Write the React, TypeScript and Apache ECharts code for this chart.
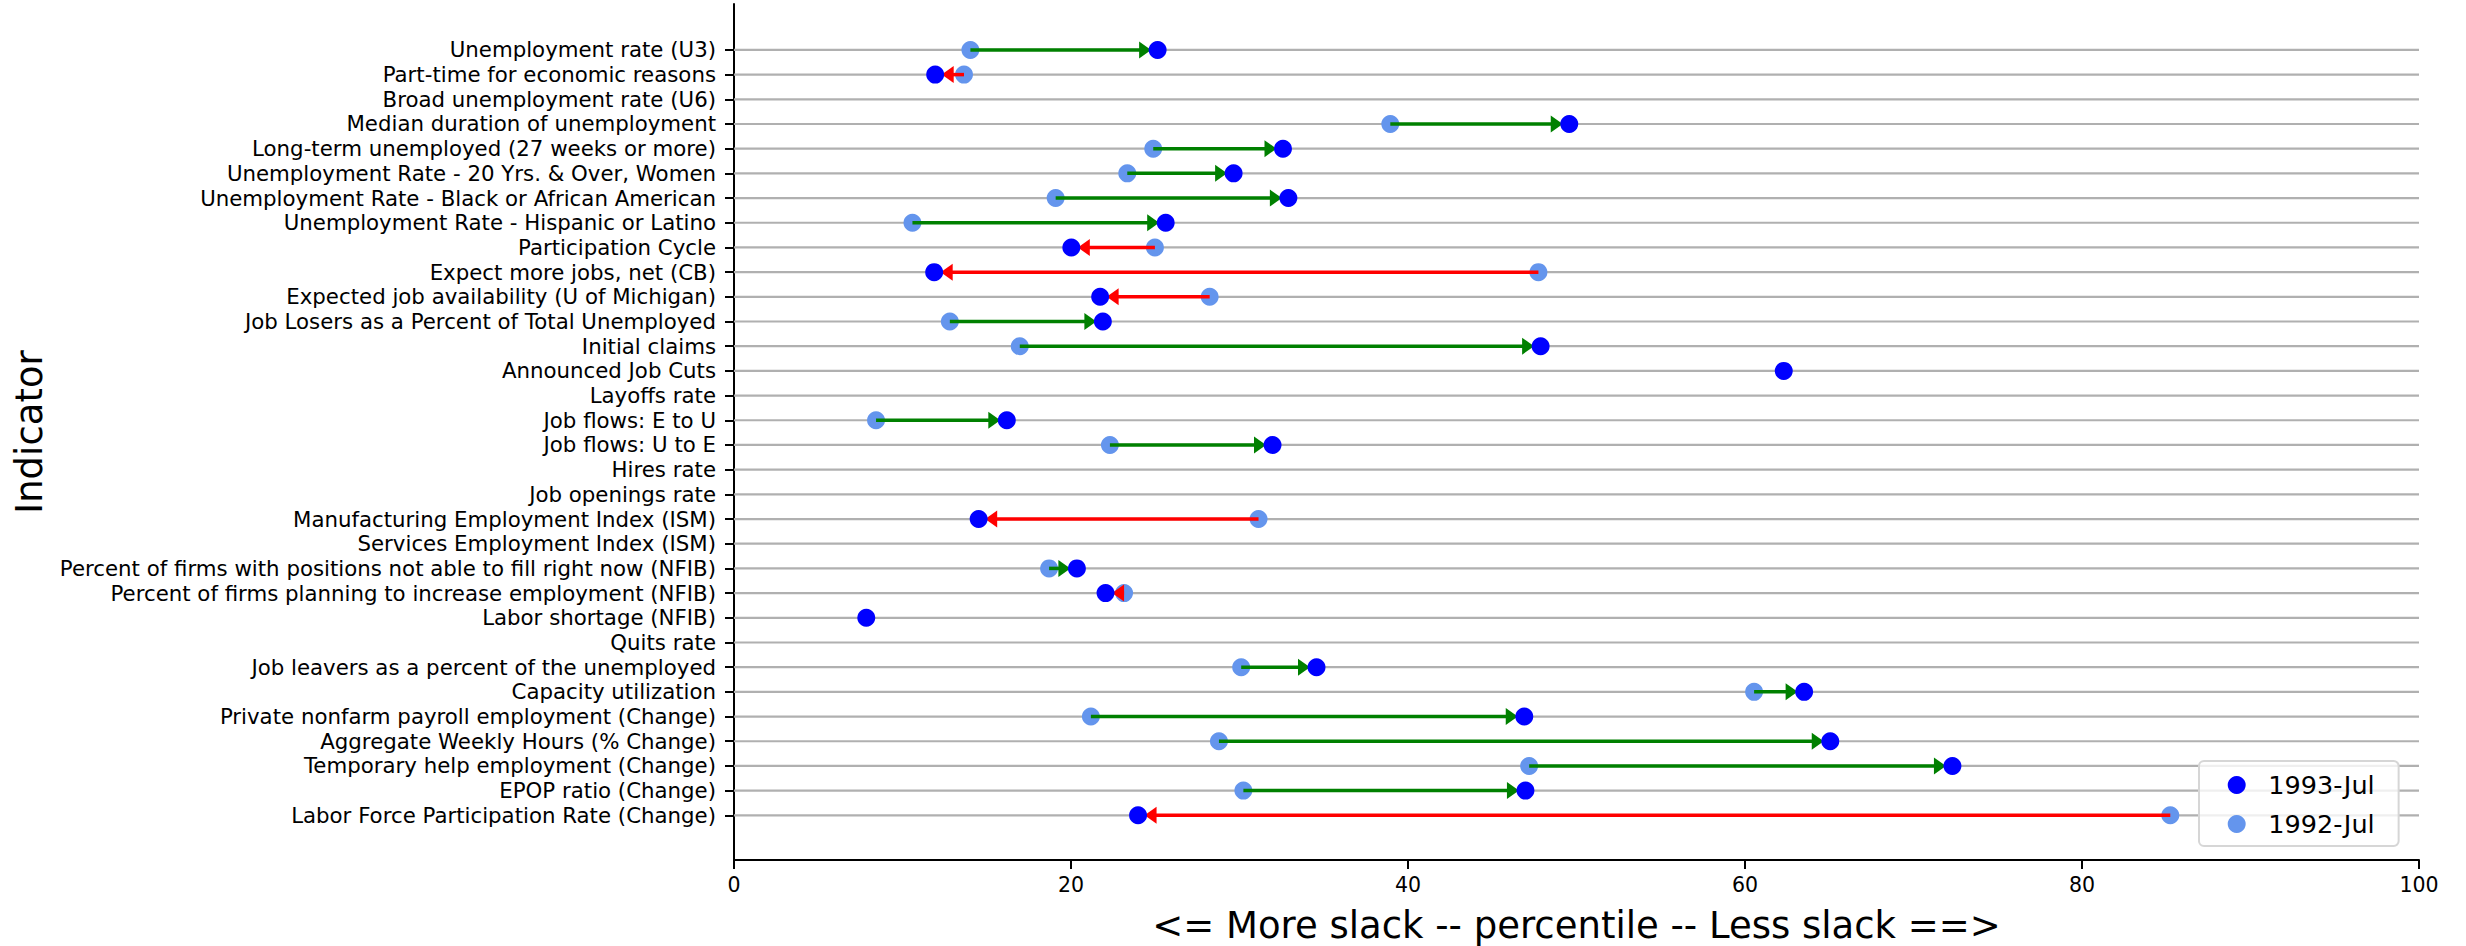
import React, { useEffect, useRef } from "react";
import * as echarts from "echarts";

const categories: string[] = [
  "Unemployment rate (U3)",
  "Part-time for economic reasons",
  "Broad unemployment rate (U6)",
  "Median duration of unemployment",
  "Long-term unemployed (27 weeks or more)",
  "Unemployment Rate - 20 Yrs. & Over, Women",
  "Unemployment Rate - Black or African American",
  "Unemployment Rate - Hispanic or Latino",
  "Participation Cycle",
  "Expect more jobs, net (CB)",
  "Expected job availability (U of Michigan)",
  "Job Losers as a Percent of Total Unemployed",
  "Initial claims",
  "Announced Job Cuts",
  "Layoffs rate",
  "Job flows: E to U",
  "Job flows: U to E",
  "Hires rate",
  "Job openings rate",
  "Manufacturing Employment Index (ISM)",
  "Services Employment Index (ISM)",
  "Percent of firms with positions not able to fill right now (NFIB)",
  "Percent of firms planning to increase employment (NFIB)",
  "Labor shortage (NFIB)",
  "Quits rate",
  "Job leavers as a percent of the unemployed",
  "Capacity utilization",
  "Private nonfarm payroll employment (Change)",
  "Aggregate Weekly Hours (% Change)",
  "Temporary help employment (Change)",
  "EPOP ratio (Change)",
  "Labor Force Participation Rate (Change)",
];

const values1993: (number | null)[] = [
  25.14, 11.94, null, 49.57, 32.58, 29.65, 32.9, 25.62, 20.02, 11.88, 21.73,
  21.89, 47.87, 62.3, null, 16.19, 31.96, null, null, 14.52, null, 20.35,
  22.05, 7.85, null, 34.57, 63.51, 46.9, 65.06, 72.31, 46.97, 23.98,
];

const values1992: (number | null)[] = [
  14.03, 13.65, null, 38.95, 24.88, 23.34, 19.09, 10.59, 24.98, 47.74, 28.23,
  12.81, 16.96, null, null, 8.43, 22.31, null, null, 31.13, null, 18.7, 23.15,
  null, null, 30.1, 60.54, 21.18, 28.78, 47.19, 30.23, 85.24,
];

const seriesNames: string[] = ["1993-Jul", "1992-Jul"];
const xTicks: number[] = [0, 20, 40, 60, 80, 100];

const FONT = "DejaVu Sans";
const COLOR_1993 = "#0000ff";
const COLOR_1992 = "#6495ed";
const UP = "#008000";
const DOWN = "#ff0000";
const TIP_GAP = 6.5;
const HEAD_LEN = 12;
const HEAD_HALF = 8.5;

export default function App() {
  const ref = useRef<HTMLDivElement>(null);

  useEffect(() => {
    if (!ref.current) return;
    const chart = echarts.init(ref.current, undefined, { renderer: "svg" });

    const rowIdx = categories.map((_, i) => i);
    const pts1993 = values1993
      .map((v, i) => (v == null ? null : [v, i]))
      .filter((d) => d != null);
    const pts1992 = values1992
      .map((v, i) => (v == null ? null : [v, i]))
      .filter((d) => d != null);
    const arrows = categories
      .map((_, i) =>
        values1992[i] != null && values1993[i] != null
          ? [values1992[i], values1993[i], i]
          : null
      )
      .filter((d) => d != null);

    const option: any = {
      animation: false,
      backgroundColor: "#ffffff",
      grid: {
        left: 734,
        right: 47,
        top: 4,
        bottom: 86,
        containLabel: false,
        outerBoundsMode: "none",
      },
      legend: {
        data: seriesNames,
        orient: "vertical",
        left: 2199,
        top: 761,
        padding: [11, 24, 9, 28.7],
        itemWidth: 53.3,
        itemHeight: 18,
        itemGap: 13,
        icon: "circle",
        backgroundColor: "rgba(255,255,255,0.8)",
        borderColor: "#d6d6d6",
        borderWidth: 2,
        borderRadius: 5,
        textStyle: {
          fontFamily: FONT,
          fontSize: 25.5,
          lineHeight: 26,
          color: "#000",
        },
      },
      xAxis: {
        type: "value",
        min: xTicks[0],
        max: xTicks[xTicks.length - 1],
        interval: xTicks[1] - xTicks[0],
        name: "<= More slack -- percentile -- Less slack ==>",
        nameLocation: "middle",
        nameGap: 47,
        nameTextStyle: { fontFamily: FONT, fontSize: 37, color: "#000" },
        axisLine: { show: true, onZero: false, lineStyle: { color: "#000", width: 2 } },
        axisTick: { show: true, length: 9, lineStyle: { color: "#000", width: 2 } },
        axisLabel: {
          fontFamily: FONT,
          fontSize: 20.5,
          color: "#000",
          margin: 14,
        },
        splitLine: { show: false },
      },
      yAxis: {
        type: "value",
        inverse: true,
        min: -1.86,
        max: 32.81,
        name: "Indicator",
        nameLocation: "middle",
        nameRotate: 90,
        nameGap: 686,
        nameTextStyle: { fontFamily: FONT, fontSize: 37, color: "#000" },
        axisLine: { show: true, onZero: false, lineStyle: { color: "#000", width: 2 } },
        axisTick: {
          show: true,
          length: 9,
          customValues: rowIdx,
          lineStyle: { color: "#000", width: 2 },
        },
        axisLabel: {
          customValues: rowIdx,
          fontFamily: FONT,
          fontSize: 21.3,
          color: "#000",
          margin: 18,
          formatter: (v: number) => categories[Math.round(v)] ?? "",
        },
        splitLine: { show: false },
      },
      series: [
        {
          name: "rows",
          type: "custom",
          silent: true,
          z: 1,
          data: rowIdx.map((i) => [i]),
          encode: { y: 0 },
          renderItem: (params: any, api: any) => {
            const row = api.value(0);
            const p = api.coord([0, row]);
            const cs = params.coordSys;
            return {
              type: "line",
              shape: { x1: cs.x, y1: p[1], x2: cs.x + cs.width, y2: p[1] },
              style: { stroke: "#b0b0b0", lineWidth: 2.2 },
            };
          },
        },
        {
          name: seriesNames[1],
          type: "scatter",
          z: 2,
          symbol: "circle",
          symbolSize: 18,
          itemStyle: { color: COLOR_1992, opacity: 1 },
          data: pts1992,
        },
        {
          name: "arrows",
          type: "custom",
          silent: true,
          z: 3,
          data: arrows,
          encode: { x: [0, 1], y: 2 },
          renderItem: (params: any, api: any) => {
            const a = api.value(0);
            const b = api.value(1);
            const row = api.value(2);
            const p0 = api.coord([a, row]);
            const p1 = api.coord([b, row]);
            const dir = p1[0] >= p0[0] ? 1 : -1;
            const color = b >= a ? UP : DOWN;
            const tip = p1[0] - dir * TIP_GAP;
            const base = tip - dir * HEAD_LEN;
            const children: any[] = [];
            if ((base - p0[0]) * dir > 0) {
              children.push({
                type: "line",
                shape: { x1: p0[0], y1: p0[1], x2: base + dir * 1, y2: p1[1] },
                style: { stroke: color, lineWidth: 3.5 },
              });
            }
            children.push({
              type: "polygon",
              shape: {
                points: [
                  [tip, p1[1]],
                  [base, p1[1] - HEAD_HALF],
                  [base, p1[1] + HEAD_HALF],
                ],
              },
              style: { fill: color },
            });
            return { type: "group", children };
          },
        },
        {
          name: seriesNames[0],
          type: "scatter",
          z: 4,
          symbol: "circle",
          symbolSize: 18,
          itemStyle: { color: COLOR_1993, opacity: 1 },
          data: pts1993,
        },
      ],
    };

    chart.setOption(option);
    return () => chart.dispose();
  }, []);

  return (
    <div
      ref={ref}
      style={{ position: "absolute", left: 0, top: 0, width: 2466, height: 946 }}
    />
  );
}
